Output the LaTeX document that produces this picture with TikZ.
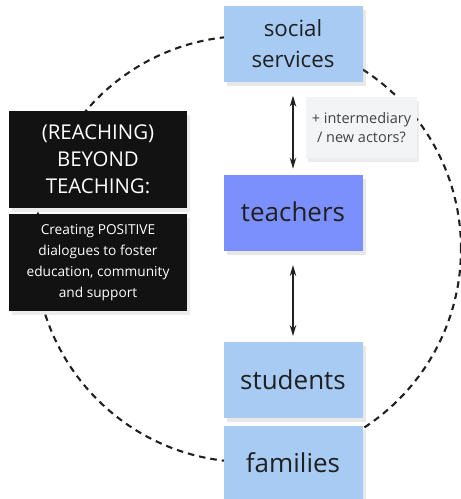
\documentclass[tikz,border=0pt]{standalone}
\usepackage{fontspec}
\setmainfont{Open Sans}
\usetikzlibrary{positioning,shadows,arrows.meta}
\definecolor{cardblue}{HTML}{A7CBF3}
\definecolor{teachblue}{HTML}{7B90FD}
\definecolor{notegrey}{HTML}{F3F4F6}
\definecolor{boardblack}{HTML}{121212}
\definecolor{inkgrey}{HTML}{202020}

\begin{document}
\begin{tikzpicture}[x=1pt, y=-1pt, node distance=93pt,
    card/.style={fill=cardblue, minimum width=139pt, minimum height=76pt, inner sep=0pt, align=center, text=inkgrey,
        font=\fontsize{26}{30}\selectfont, drop shadow={shadow xshift=3pt, shadow yshift=-4pt, opacity=0.18}},
    board/.style={fill=boardblack, minimum width=178pt, minimum height=97pt, inner sep=0pt, align=center, text=white,
        drop shadow={shadow xshift=3pt, shadow yshift=-4pt, opacity=0.15}},
    note/.style={fill=notegrey, minimum width=111pt, minimum height=61pt, inner sep=0pt, align=center, text=inkgrey!85,
        font=\fontsize{14.5}{19.3}\selectfont, drop shadow={shadow xshift=2pt, shadow yshift=-4pt, opacity=0.15}},
    link/.style={{Stealth[length=11pt,width=6.5pt]}-{Stealth[length=11pt,width=6.5pt]}, line width=1.3pt, draw=inkgrey,
        shorten <=14pt, shorten >=6pt},
    ring/.style={dash pattern=on 6.5pt off 5pt, line width=2.1pt, draw=inkgrey}]
    \useasboundingbox (0,0) rectangle (461,499);

    % dashed ring behind everything
    \coordinate (hub) at (248,249);
    \draw [ring] (hub) circle [radius=213pt];

    % the chain of actors
    \node (social) [card, font=\fontsize{22.3}{31}\selectfont] at (293,43.5) {social\\services};
    \node (teachers) [card, fill=teachblue, below=93pt of social] {\raisebox{2pt}{teachers}};
    \node (students) [card, below=91pt of teachers] {\raisebox{2pt}{students}};
    \node (families) [card, below=7pt of students] {\raisebox{2pt}{families}};

    \node (extra) [note] at (361.5,127.5) {+ intermediary\\/ new actors?};

    % black boards on the left
    \node (reach) [board, font=\fontsize{20.4}{27}\selectfont] at (98,159.5) {(REACHING)\\BEYOND\\TEACHING:};
    \node (aim) [board, font=\fontsize{13.7}{21}\selectfont, below=6pt of reach] {Creating POSITIVE\\dialogues to foster\\education, community\\and support};

    \draw [link] (social) -- (teachers);
    \draw [link] (teachers) -- (students);
\end{tikzpicture}
\end{document}
